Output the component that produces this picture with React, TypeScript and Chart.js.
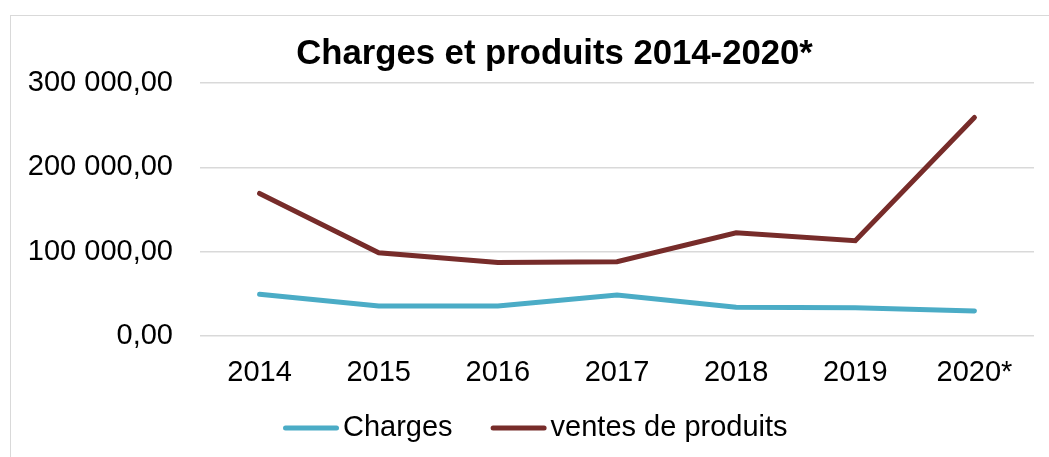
import React, { useEffect, useRef } from "react";
import { Chart, registerables } from "chart.js";

Chart.register(...registerables);

const TITLE = "Charges et produits 2014-2020*";
const categories = ["2014", "2015", "2016", "2017", "2018", "2019", "2020*"];
const chargesLabel = "Charges";
const chargesValues = [49400, 35500, 35500, 48600, 34000, 33500, 29600];
const ventesLabel = "ventes de produits";
const ventesValues = [169000, 98700, 87300, 88000, 122400, 112900, 259100];
const yTickValues = [0, 100000, 200000, 300000];

const FONT = "'Liberation Sans', Arial, sans-serif";

function formatFr(v: number): string {
  const int = Math.round(Math.abs(v)).toString().replace(/\B(?=(\d{3})+(?!\d))/g, " ");
  return (v < 0 ? "-" : "") + int + ",00";
}

const titleLegendPlugin = {
  id: "titleLegend",
  afterDraw(chart: any) {
    const ctx = chart.ctx as CanvasRenderingContext2D;
    ctx.save();
    // title
    ctx.font = `bold 34.7px ${FONT}`;
    ctx.fillStyle = "#000";
    ctx.textAlign = "center";
    ctx.textBaseline = "alphabetic";
    ctx.fillText(TITLE, 554.5, 63.5);
    // legend
    ctx.font = `29px ${FONT}`;
    ctx.textAlign = "left";
    ctx.textBaseline = "middle";
    const lineLen = 56;
    const gap = 4;
    const itemGap = 38;
    let x = 283;
    const y = 428;
    chart.data.datasets.forEach((ds: any) => {
      ctx.strokeStyle = ds.borderColor;
      ctx.lineWidth = 5;
      ctx.lineCap = "round";
      ctx.beginPath();
      ctx.moveTo(x + 2.5, y);
      ctx.lineTo(x + lineLen - 2.5, y);
      ctx.stroke();
      x += lineLen + gap;
      ctx.fillStyle = "#000";
      ctx.fillText(ds.label, x, y);
      x += ctx.measureText(ds.label).width + itemGap;
    });
    ctx.restore();
  },
};

export default function App() {
  const ref = useRef<HTMLCanvasElement>(null);
  useEffect(() => {
    if (!ref.current) return;
    const chart = new Chart(ref.current, {
      type: "line",
      data: {
        labels: categories,
        datasets: [
          {
            label: chargesLabel,
            data: chargesValues,
            borderColor: "#4BACC6",
            backgroundColor: "#4BACC6",
            borderWidth: 5,
            pointRadius: 0,
            tension: 0,
            borderCapStyle: "round",
          },
          {
            label: ventesLabel,
            data: ventesValues,
            borderColor: "#772C2A",
            backgroundColor: "#772C2A",
            borderWidth: 5,
            pointRadius: 0,
            tension: 0,
            borderCapStyle: "round",
          },
        ],
      },
      options: {
        animation: false,
        responsive: false,
        maintainAspectRatio: false,
        layout: { padding: { left: 0, right: 15, top: 83, bottom: 0 } },
        plugins: {
          legend: { display: false },
          title: { display: false },
          tooltip: { enabled: false },
        },
        scales: {
          x: {
            offset: true,
            grid: { display: false, drawTicks: false },
            border: { display: false },
            ticks: {
              color: "#000",
              font: { family: FONT, size: 29 },
              padding: 20,
              maxRotation: 0,
              autoSkip: false,
            },
            afterFit: (scale: any) => {
              scale.height = 121;
            },
          },
          y: {
            min: 0,
            max: 300000,
            afterBuildTicks: (scale: any) => {
              scale.ticks = yTickValues.map((v) => ({ value: v }));
            },
            grid: { color: "#D9D9D9", lineWidth: 1.5, drawTicks: false },
            border: { display: false },
            ticks: {
              color: "#000",
              font: { family: FONT, size: 29 },
              padding: 27,
              callback: (v: any) => formatFr(Number(v)),
            },
            afterFit: (scale: any) => {
              scale.width = 200;
            },
          },
        },
      },
      plugins: [titleLegendPlugin],
    });
    return () => chart.destroy();
  }, []);

  return (
    <div
      style={{
        position: "fixed",
        left: 0,
        top: 0,
        width: 1049,
        height: 457,
        overflow: "hidden",
        background: "#fff",
      }}
    >
      <div
        style={{
          position: "absolute",
          left: 10,
          top: 15,
          width: 1200,
          height: 600,
          border: "1.5px solid #D9D9D9",
          boxSizing: "border-box",
        }}
      />
      <canvas
        ref={ref}
        width={1049}
        height={457}
        style={{ position: "absolute", left: 0, top: 0, width: 1049, height: 457 }}
      />
    </div>
  );
}
